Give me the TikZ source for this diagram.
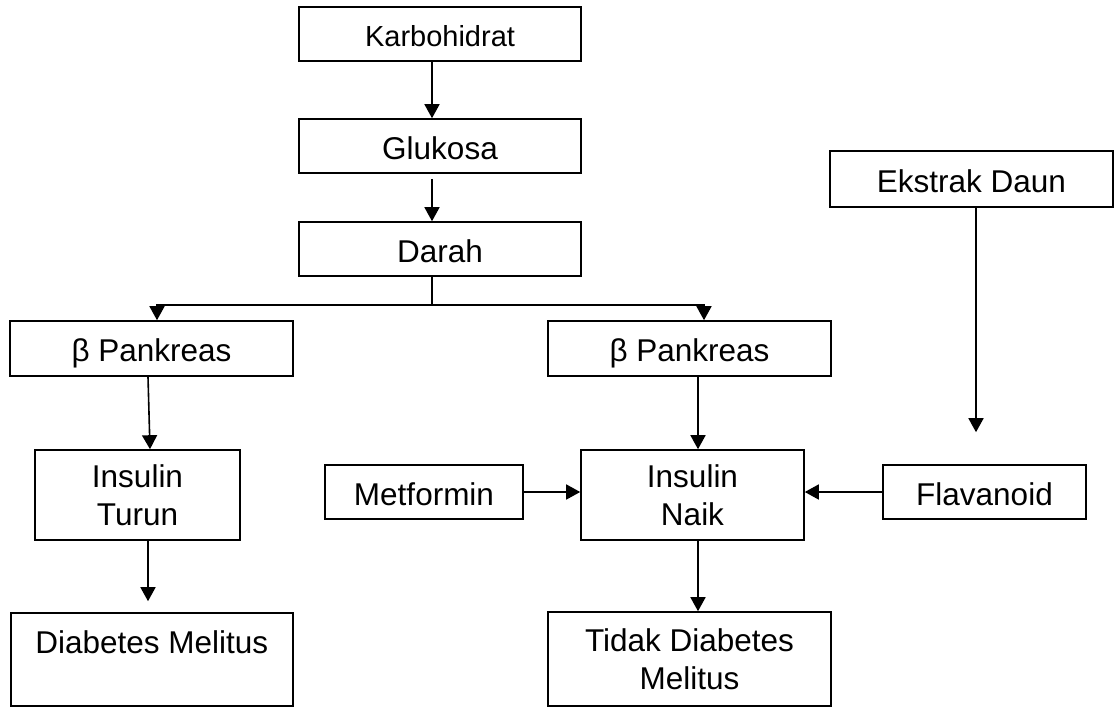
\documentclass[tikz,border=0pt]{standalone}
\usepackage{fontspec}
\setmainfont{Liberation Sans}
\usetikzlibrary{arrows.meta}
\tikzset{
	block/.style={draw, rectangle, line width=1.6pt, inner sep=0pt, align=center,
		font=\fontsize{31.5}{38.5}\selectfont},
	oneline/.style={block, text height=26pt, text depth=0pt},
	arr/.style={line width=1.6pt, -{Triangle[length=14pt,width=15pt]}}
}
\begin{document}
\begin{tikzpicture}[x=1pt,y=-1pt]
		\useasboundingbox (0,0) rectangle (1120,707);
		% left column
		\node[oneline, minimum width=282, minimum height=54, font=\fontsize{29}{33}\selectfont, text height=24pt] (karbo) at (440,34) {Karbohidrat};
		\node[oneline, minimum width=282, minimum height=54] (gluko) at (440,146) {Glukosa};
		\node[oneline, minimum width=282, minimum height=54] (darah) at (440,249) {Darah};
		\node[oneline, minimum width=283, minimum height=55] (pankL) at (151.5,348.5) {β Pankreas};
		\node[oneline, minimum width=283, minimum height=55] (pankR) at (689.5,348.5) {β Pankreas};
		\node[block, minimum width=205, minimum height=90] (turun) at (137.5,495) {Insulin\\Turun};
		\node[block, minimum width=223, minimum height=90] (naik) at (692.5,495) {Insulin\\Naik};
		\node[oneline, minimum width=198, minimum height=54] (metf) at (424,492) {Metformin};
		% right side
		\node[oneline, minimum width=283, minimum height=56] (ekstrak) at (971.5,179) {Ekstrak Daun};
		\node[oneline, minimum width=203, minimum height=54] (flav) at (984.5,492) {Flavanoid};
		\node[block, minimum width=282, text height=40pt, text depth=53pt] (diab) at (151.7,659.5) {Diabetes Melitus};
		\node[block, minimum width=283, minimum height=94] (tidak) at (689.5,659) {Tidak Diabetes\\Melitus};

		\draw[arr] ([xshift=-8pt]karbo.south) -- ([xshift=-8pt]gluko.north);
		\draw[arr, shorten <=5pt] ([xshift=-8pt]gluko.south) -- ([xshift=-8pt]darah.north);
		\draw[line width=1.6pt] ([xshift=-8pt]darah.south) -- ++(0,28) coordinate (split);
		\draw[arr] (split) -| ([xshift=5.5pt]pankL.north);
		\draw[arr] (split) -| ([xshift=14.5pt]pankR.north);
		\draw[arr] ([xshift=-3.5pt]pankL.south) -- ([xshift=12.5pt]turun.north);
		\draw[arr, shorten >=11pt] ([xshift=10.5pt]turun.south) -- ([xshift=-3.7pt]diab.north);
		\draw[arr] ([xshift=8.5pt]pankR.south) -- ([xshift=5.5pt]naik.north);
		\draw[arr] ([xshift=5.5pt]naik.south) -- ([xshift=8.5pt]tidak.north);
		\draw[arr] (metf.east) -- ([yshift=3pt]naik.west);
		\draw[arr] (flav.west) -- ([yshift=3pt]naik.east);
		\draw[arr, shorten >=32pt] ([xshift=4.5pt]ekstrak.south) -- ([xshift=-8.5pt]flav.north);
	\end{tikzpicture}
\end{document}
